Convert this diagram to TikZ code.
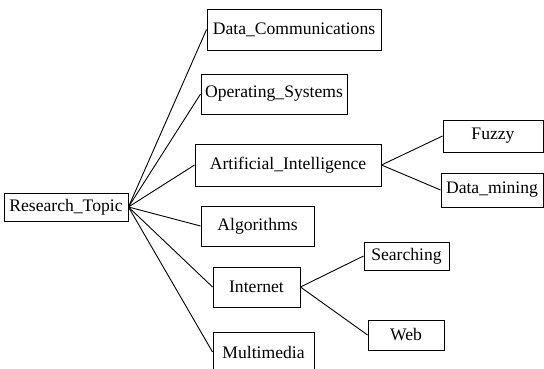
\documentclass[tikz,border=0pt]{standalone}
\usepackage{fontspec}
\setmainfont{Liberation Serif}
\usepackage{tikz}
\usetikzlibrary{positioning}

\begin{document}
\begin{tikzpicture}[x=1pt,y=-1pt,line width=0.9pt,
    topic/.style={draw,inner sep=0pt,font=\fontsize{17.6}{20}\selectfont}]
                    \useasboundingbox (0,0) rectangle (544,369);
                    % root
                    \node[topic,minimum width=124,minimum height=28] (rt) at (66,207) {Research\_Topic};
                    % first level
                    \node[topic,minimum width=174,minimum height=41] (dc) at (294,29.5) {Data\_Communications};
                    \node[topic,minimum width=146,minimum height=40] (os) at (274,94) {Operating\_Systems};
                    \node[topic,minimum width=186,minimum height=42] (ai) at (288,165) {Artificial\_Intelligence};
                    \node[topic,minimum width=113,minimum height=40] (al) at (257.5,226) {Algorithms};
                    \node[topic,minimum width=87,minimum height=40] (in) at (256.5,287) {Internet};
                    \node[topic,minimum width=101,minimum height=40] (mm) at (263.5,352) {Multimedia};
                    % second level
                    \node[topic,minimum width=100,minimum height=32] (fz) at (493,136) {Fuzzy};
                    \node[topic,minimum width=102,minimum height=34] (dm) at (492,190) {Data\_mining};
                    \node[topic,minimum width=85,minimum height=28] (se) at (406.5,256) {Searching};
                    \node[topic,minimum width=76,minimum height=30] (wb) at (406,335) {Web};
                    \foreach \t in {dc,os,ai,al,in,mm}
                        \draw (rt.east) -- (\t.west);
                    \draw (ai.east) -- (fz.west);
                    \draw (ai.east) -- (dm.west);
                    \draw (in.east) -- (se.west);
                    \draw (in.east) -- (wb.west);
                \end{tikzpicture}
\end{document}
